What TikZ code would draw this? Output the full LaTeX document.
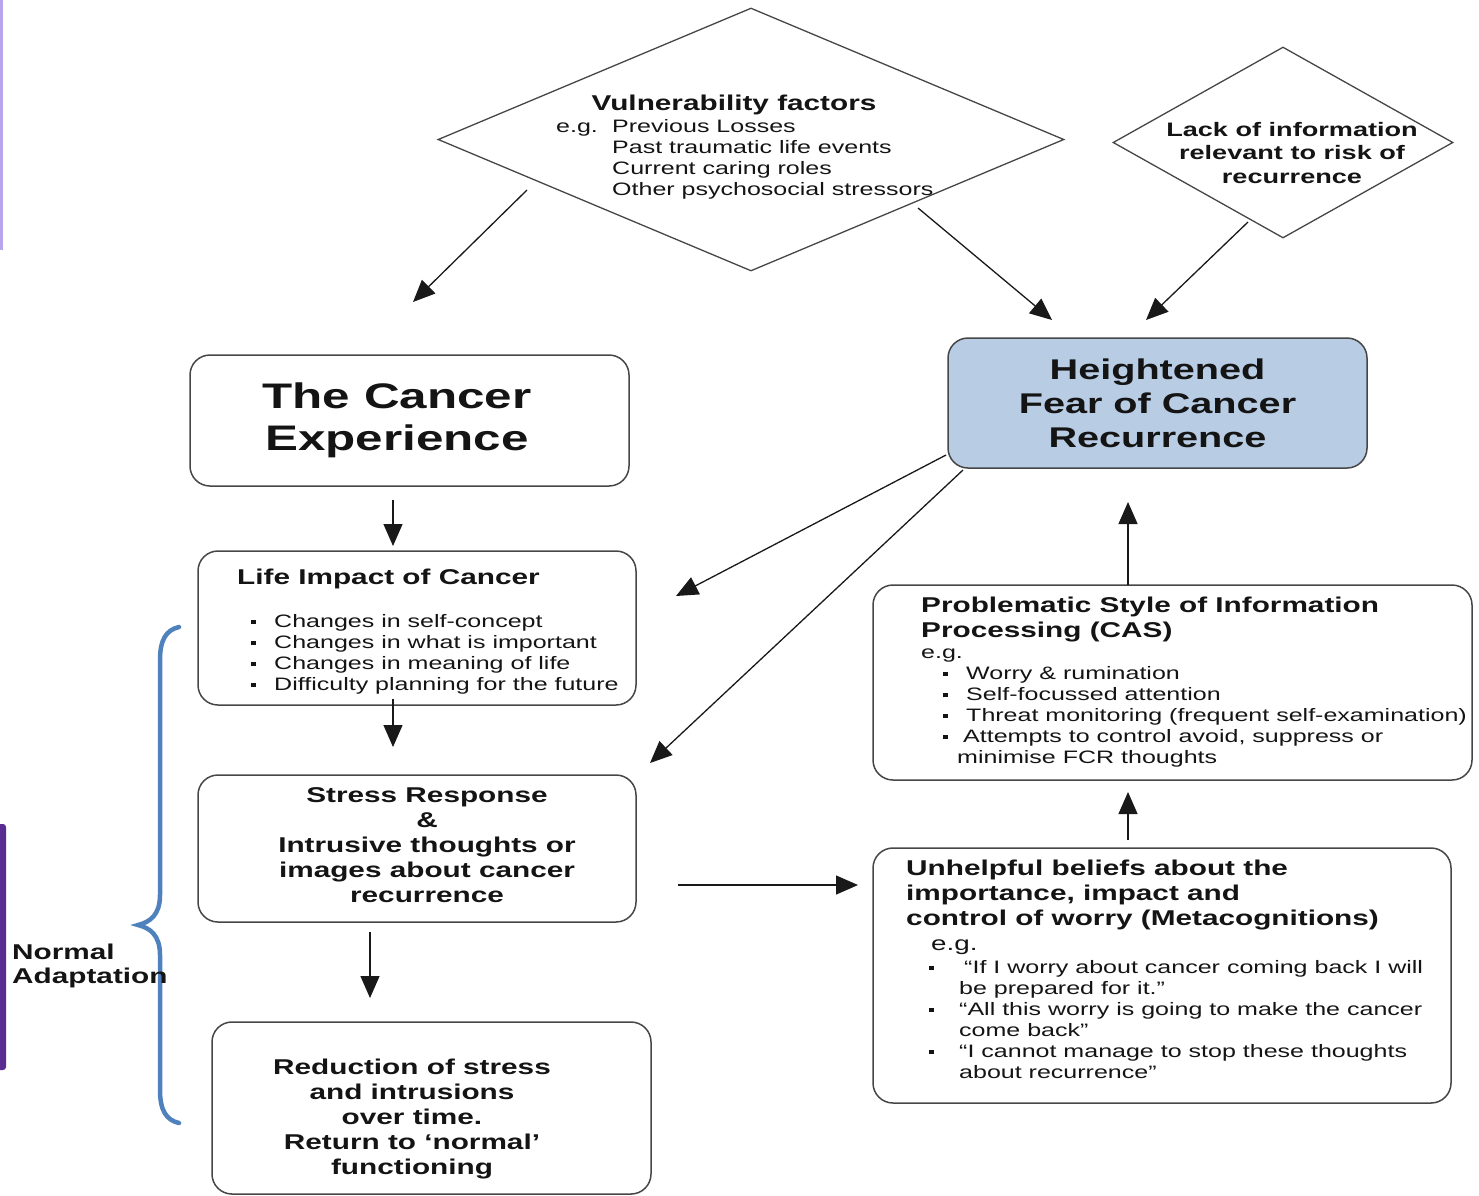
\documentclass[tikz,border=0pt]{standalone}
\usepackage{fontspec}
\setmainfont[FakeStretch=1.39]{Liberation Sans}
\usetikzlibrary{arrows.meta,shapes.geometric,calc}
\definecolor{boxline}{RGB}{70,70,70}
\definecolor{fearfill}{RGB}{184,204,228}
\definecolor{bracecol}{RGB}{79,129,189}
\definecolor{purpledark}{RGB}{88,44,145}
\definecolor{purplelight}{RGB}{185,165,235}
\definecolor{txt}{RGB}{20,20,20}
\newcommand\fsz[2]{\fontsize{#1pt}{#2pt}\selectfont}
\newcommand\sqb{\rule[0.2em]{0.24em}{0.24em}}
\begin{document}
\begin{tikzpicture}[x=1pt,y=-1pt,
  box/.style={draw=boxline, line width=1.5pt, rounded corners=20pt, inner sep=0pt},
  dia/.style={draw=boxline, line width=1.3pt, diamond, inner sep=0pt},
  arr/.style={draw=black!90, line width=1.3pt, -{Triangle[length=22pt,width=19pt]}},
  lbl/.style={inner sep=0pt, text=txt},
  dn/.style={yshift=-#1},
  ttl/.style={font=\bfseries\fsz{21.4}{25}},
  reg/.style={font=\fsz{18}{21}}
]
\useasboundingbox (0,0) rectangle (1479,1195);
\fill[purplelight] (0,0) rectangle (2.5,250);
\fill[purpledark, rounded corners=3pt] (-6,824) rectangle (6,1070);

% diamonds
\node[dia, minimum width=626pt, minimum height=263pt] (vul) at (751,139.5) {};
\node[dia, minimum width=340pt, minimum height=191pt] (lack) at (1283,142.5) {};
\node[lbl, ttl, dn=3pt] (vultitle) at (734,102) {Vulnerability factors};
\node[lbl, reg, dn=3pt, anchor=west, align=left] (vulitems) at (556,156.5)
  {\makebox[56pt][l]{e.g.}Previous Losses\\\hspace*{56pt}Past traumatic life events\\\hspace*{56pt}Current caring roles\\\hspace*{56pt}Other psychosocial stressors};
\node[lbl, font=\bfseries\fsz{19.5}{23.5}, align=center] (lacktxt) at (1292,153)
  {Lack of information\\relevant to risk of\\recurrence};

% boxes
\node[box, fill=fearfill, minimum width=419pt, minimum height=130pt,
  font=\bfseries\fsz{28.5}{34}, align=center, text=txt] (fear) at (1157.5,403)
  {Heightened\\Fear of Cancer\\Recurrence};

\node[box, minimum width=439pt, minimum height=131pt] (exp) at (409.5,420.5) {};
\node[lbl, dn=3pt, font=\bfseries\fsz{35.5}{42}, align=center] (exptxt) at (397,417) {The Cancer\\Experience};

\node[box, minimum width=438pt, minimum height=154pt] (life) at (417,628) {};
\node[lbl, ttl, dn=3pt, anchor=west] (lifetitle) at (237,576) {Life Impact of Cancer};
\node[lbl, reg, dn=3pt, anchor=west, align=left] (lifeitems) at (251,651.5)
  {\makebox[23pt][l]{\sqb}Changes in self-concept\\
   \makebox[23pt][l]{\sqb}Changes in what is important\\
   \makebox[23pt][l]{\sqb}Changes in meaning of life\\
   \makebox[23pt][l]{\sqb}Difficulty planning for the future};

\node[box, minimum width=438pt, minimum height=147pt] (stress) at (417,848.5) {};
\node[lbl, ttl, dn=1.5pt, align=center] (stresstxt) at (427,844)
  {Stress Response\\\&\\Intrusive thoughts or\\images about cancer\\recurrence};

\node[box, minimum width=439pt, minimum height=172pt] (red) at (431.5,1108) {};
\node[lbl, ttl, dn=2pt, align=center] (redtxt) at (412,1116.5)
  {Reduction of stress\\and intrusions\\over time.\\Return to ‘normal’\\functioning};

\node[box, minimum width=599pt, minimum height=195pt] (prob) at (1172.5,682.5) {};
\node[lbl, ttl, dn=3pt, anchor=west, align=left] (probtitle) at (921,616.5)
  {Problematic Style of Information\\Processing (CAS)};
\node[lbl, reg, dn=4pt, anchor=west, align=left] (probitems) at (921,704.5)
  {e.g.\\
   \hspace*{22pt}\makebox[23pt][l]{\sqb}Worry \& rumination\\
   \hspace*{22pt}\makebox[23pt][l]{\sqb}Self-focussed attention\\
   \hspace*{22pt}\makebox[23pt][l]{\sqb}Threat monitoring (frequent self-examination)\\
   \hspace*{22pt}\makebox[20pt][l]{\sqb}Attempts to control avoid, suppress or\\
   \hspace*{36pt}minimise FCR thoughts};

\node[box, minimum width=578pt, minimum height=255pt] (unh) at (1162,975.5) {};
\node[lbl, ttl, dn=3pt, anchor=west, align=left] (unhtitle) at (906,892)
  {Unhelpful beliefs about the\\importance, impact and\\control of worry (Metacognitions)};
\node[lbl, dn=4pt, font=\fsz{20}{24}, anchor=west] (unheg) at (931,943) {e.g.};
\node[lbl, reg, dn=1pt, anchor=west, align=left] (unhitems) at (929,1018.5)
  {\makebox[30pt][l]{\sqb}\hspace*{5pt}“If I worry about cancer coming back I will\\
   \hspace*{30pt}be prepared for it.”\\
   \makebox[30pt][l]{\sqb}“All this worry is going to make the cancer\\
   \hspace*{30pt}come back”\\
   \makebox[30pt][l]{\sqb}“I cannot manage to stop these thoughts\\
   \hspace*{30pt}about recurrence”};

% brace and label
\draw[bracecol, line width=4.5pt, line cap=round]
  (179,627) .. controls (166,630) and (160,640) .. (160,660) -- (160,895)
  .. controls (160,915) and (150,922) .. (138,925)
  .. controls (150,928) and (160,935) .. (160,955) -- (160,1090)
  .. controls (160,1110) and (166,1120) .. (179,1123);
\node[lbl, dn=3pt, font=\bfseries\fsz{21.4}{24}, anchor=west, align=left] (normal) at (12,963) {Normal\\Adaptation};

% arrow end points
\coordinate (v1s) at (527,190);  \coordinate (v1e) at (413,302);
\coordinate (v2s) at (918,208);  \coordinate (v2e) at (1052,320);
\coordinate (l1s) at (1248,222); \coordinate (l1e) at (1146,320);
\coordinate (e1s) at (393,500);  \coordinate (e1e) at (393,546);
\coordinate (i1s) at (393,699);  \coordinate (i1e) at (393,747);
\coordinate (s1s) at (370,932);  \coordinate (s1e) at (370,998);
\coordinate (s2s) at (678,885);  \coordinate (s2e) at (858,885);
\coordinate (f1s) at (946,455);  \coordinate (f1e) at (676,596);
\coordinate (f2s) at (963,470);  \coordinate (f2e) at (650,763);
\coordinate (u1s) at (1128,840); \coordinate (u1e) at (1128,792);
\coordinate (p1s) at (1128,585); \coordinate (p1e) at (1128,502);

\draw[arr] (v1s) -- (v1e);
\draw[arr] (v2s) -- (v2e);
\draw[arr] (l1s) -- (l1e);
\draw[arr] (e1s) -- (e1e);
\draw[arr] (i1s) -- (i1e);
\draw[arr] (s1s) -- (s1e);
\draw[arr] (s2s) -- (s2e);
\draw[arr] (f1s) -- (f1e);
\draw[arr] (f2s) -- (f2e);
\draw[arr] (u1s) -- (u1e);
\draw[arr] (p1s) -- (p1e);
\end{tikzpicture}
\end{document}
